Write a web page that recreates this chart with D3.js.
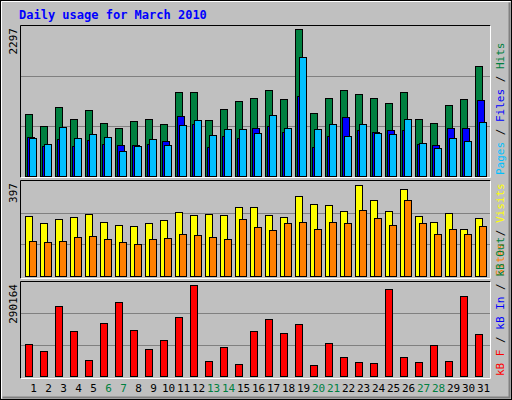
<!DOCTYPE html>
<html><head><meta charset="utf-8">
<script src="https://cdn.jsdelivr.net/npm/d3@7"></script>
<style>body{margin:0;background:#fff}svg{display:block}text{font-family:"DejaVu Sans Mono",monospace}</style>
</head><body><svg id="c" width="512" height="400"></svg>
<script>
const days = d3.range(1, 32);
const weekends = [6, 7, 13, 14, 20, 21, 27, 28];
const hits = [954,771,1062,878,1016,817,740,847,878,801,1291,1291,863,1031,1154,1199,1322,1184,2256,970,1199,1322,1261,1199,1123,1291,878,817,1092,1184,1689];
const files = [602,464,572,464,556,495,480,480,495,541,924,801,449,618,587,740,771,679,1230,449,618,909,709,679,709,709,495,480,740,740,1169];
const pages = [587,495,755,587,648,602,388,464,572,480,786,863,633,725,725,664,939,740,1827,725,801,618,801,664,648,878,510,434,587,541,832];
const visits = [251,222,238,247,259,226,214,209,222,234,267,255,259,255,288,288,255,247,333,300,296,271,379,317,271,362,251,226,263,197,243];
const sites = [147,143,147,164,168,156,143,135,156,160,176,172,164,156,238,205,193,222,226,197,226,222,276,243,214,317,222,176,197,176,209];
const kbytes = [99105,77650,215580,138950,50060,163470,227840,142020,83780,111370,181860,279950,47000,89910,37800,138950,175730,132820,160400,34740,102170,59260,43930,40870,267690,59260,43930,96040,47000,246230,129760];
const maxLabels = ["2297", "397", "290164"];

const svg = d3.select("#c");
svg.append("rect").attr("width",512).attr("height",400).attr("fill","#C0C0C0");
svg.append("rect").attr("x",0.5).attr("y",0.5).attr("width",511).attr("height",399).attr("fill","none").attr("stroke","#000");
svg.append("path").attr("d","M1.5,398.5V1.5H510.5").attr("stroke","#fff").attr("fill","none");
svg.append("path").attr("d","M2.5,397.5H509.5V2.5").attr("stroke","#808080").attr("fill","none").attr("stroke-width",2);
svg.append("text").attr("x",19).attr("y",19).attr("fill","#0000FF").attr("font-size",12).attr("font-weight","bold").text("Daily usage for March 2010");

const x = d3.scaleBand().domain(days).range([25, 490]).paddingInner(0);
const panels = [
  {top:25, bot:177, base:176, max:2297, label:maxLabels[0], series:[[hits,"#008040",0],[files,"#0000FF",2],[pages,"#00C0FF",4]],
   legend:[["Pages","#00C0FF"],[" / ","#000"],["Files","#0000FF"],[" / ","#000"],["Hits","#008040"]]},
  {top:180, bot:278, base:276, max:397, label:maxLabels[1], series:[[visits,"#FFFF00",0],[sites,"#FF8000",4]],
   legend:[["Sites","#FF8000"],[" / ","#000"],["Visits","#FFFF00"]]},
  {top:281, bot:378, base:376, max:290164, label:maxLabels[2], series:[[kbytes,"#FF0000",0]],
   legend:[["kB F","#FF0000"],[" / ","#000"],["kB In","#0000FF"],[" / ","#000"],["kB Out","#008040"]]}
];
panels.forEach(p => {
  const y = d3.scaleLinear().domain([0, p.max]).range([p.base, p.top+1]);
  svg.append("path").attr("d",`M20.5,${p.bot+0.5}V${p.top+0.5}H490.5`).attr("stroke","#000").attr("fill","none");
  svg.append("path").attr("d",`M20.5,${p.bot+0.5}H490.5V${p.top+0.5}`).attr("stroke","#fff").attr("fill","none");
  [1/3, 2/3].forEach(f => svg.append("line").attr("x1",21).attr("x2",490)
    .attr("y1",Math.round(y(p.max*f))+0.5).attr("y2",Math.round(y(p.max*f))+0.5).attr("stroke","#808080"));
  p.series.forEach(([vals,col,off]) => {
    svg.append("g").selectAll("rect").data(vals).join("rect")
      .attr("x",(d,i)=>x(days[i])+off+0.5).attr("width",7)
      .attr("y",d=>Math.round(y(d))+0.5).attr("height",d=>p.base-Math.round(y(d)))
      .attr("fill",col).attr("stroke","#000");
  });
  svg.append("text").attr("transform",`translate(17,${p.top+3}) rotate(-90)`).attr("text-anchor","end")
    .attr("font-size",11).attr("fill","#000").text(p.label);
  const t = svg.append("text").attr("transform",`translate(504,${p.bot-2}) rotate(-90)`).attr("font-size",11);
  p.legend.forEach(([s,c]) => t.append("tspan").attr("fill",c).text(s));
});
svg.append("g").selectAll("text").data(days).join("text")
  .attr("x",d=>x(d)+8.5).attr("y",392).attr("text-anchor","middle").attr("font-size",11)
  .attr("fill",d=>weekends.includes(d)?"#008040":"#000").text(d=>d);
</script></body></html>
